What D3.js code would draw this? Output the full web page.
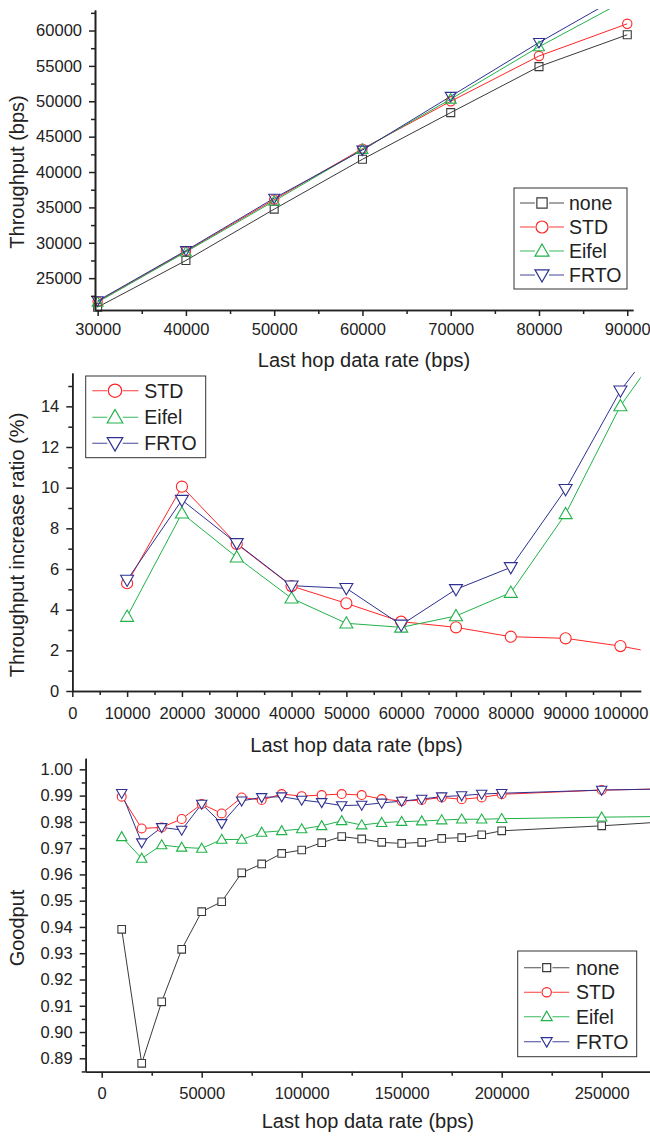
<!DOCTYPE html>
<html>
<head>
<meta charset="utf-8">
<script src="https://cdn.jsdelivr.net/npm/d3@7"></script>
<style>
    body{margin:0;background:#fff;}
    svg{display:block;font-family:"Liberation Sans",Arial,sans-serif;}
    .domain{stroke:#222;stroke-width:1.6;}
    .tick line{stroke:#222;stroke-width:1.5;}
    .tick text{font-size:16.5px;fill:#222;}
    .minor .tick text{display:none;}
    .axisTitle{font-size:20px;fill:#222;}
    .legendText{font-size:19.5px;fill:#222;}
</style>
</head>
<body>
<script>
//series styling lookups
var seriesNames = ["none", "STD", "Eifel", "FRTO"];
var seriesColors = {none: "#3a3a3a", STD: "#ff2626", Eifel: "#22b24a", FRTO: "#2e3192"};
var seriesSymbols = {none: "square", STD: "circle", Eifel: "up", FRTO: "down"};

//chart 1 - throughput
var thrRate = [30000, 40000, 50000, 60000, 70000, 80000, 90000];
var thrNone = [20900, 27500, 34750, 41800, 48400, 54900, 59400];
var thrSTD = [21700, 28800, 36100, 43300, 50000, 56400, 60950];
var thrEifel = [21600, 28700, 35900, 43200, 50300, 57700, 64400];
var thrFRTO = [21800, 28900, 36300, 43100, 50700, 58300, 65400];
var thrXTicks = [30000, 40000, 50000, 60000, 70000, 80000, 90000];
var thrYTicks = [25000, 30000, 35000, 40000, 45000, 50000, 55000, 60000];

//chart 2 - throughput increase ratio
var incRate = [10000, 20000, 30000, 40000, 50000, 60000, 70000, 80000, 90000, 100000, 110000];
var incSTD = [5.30, 10.05, 7.23, 5.16, 4.31, 3.41, 3.13, 2.67, 2.59, 2.21, 1.70];
var incEifel = [3.66, 8.74, 6.58, 4.56, 3.33, 3.13, 3.69, 4.84, 8.71, 14.02, 17.8];
var incFRTO = [5.46, 9.39, 7.26, 5.18, 5.05, 3.25, 5.00, 6.08, 9.92, 14.77, 18.3];
var incXTicks = [0, 10000, 20000, 30000, 40000, 50000, 60000, 70000, 80000, 90000, 100000];
var incYTicks = [0, 2, 4, 6, 8, 10, 12, 14];

//chart 3 - goodput
var gpRate = [10000, 20000, 30000, 40000, 50000, 60000, 70000, 80000, 90000, 100000,
    110000, 120000, 130000, 140000, 150000, 160000, 170000, 180000, 190000, 200000, 250000, 300000];
var gpNone = [0.9391, 0.8881, 0.9115, 0.9315, 0.9458, 0.9496, 0.9606, 0.9640, 0.9680, 0.9693,
    0.9721, 0.9744, 0.9735, 0.9722, 0.9718, 0.9722, 0.9737, 0.9740, 0.9751, 0.9766, 0.9785, 0.9809];
var gpSTD = [0.9896, 0.9775, 0.9779, 0.9811, 0.9868, 0.9832, 0.9893, 0.9883, 0.9906, 0.9898,
    0.9902, 0.9906, 0.9902, 0.9887, 0.9879, 0.9883, 0.9893, 0.9886, 0.9893, 0.9905, 0.9921, 0.9928];
var gpEifel = [0.9743, 0.9661, 0.9712, 0.9703, 0.9699, 0.9733, 0.9733, 0.9760, 0.9766, 0.9773,
    0.9785, 0.9804, 0.9788, 0.9797, 0.9801, 0.9803, 0.9807, 0.9810, 0.9810, 0.9812, 0.9818, 0.9822];
var gpFRTO = [0.9909, 0.9721, 0.9779, 0.9769, 0.9868, 0.9794, 0.9880, 0.9893, 0.9896, 0.9883,
    0.9874, 0.9862, 0.9864, 0.9872, 0.9879, 0.9887, 0.9896, 0.9900, 0.9906, 0.9909, 0.9921, 0.9928];
var gpXTicks = [0, 50000, 100000, 150000, 200000, 250000];
var gpYTicks = [0.89, 0.90, 0.91, 0.92, 0.93, 0.94, 0.95, 0.96, 0.97, 0.98, 0.99, 1.00];

var svg = d3.select("body")
    .append("svg")
    .attr("width", 650)
    .attr("height", 1136);

//marker path generator for each symbol type, k scales the size
function symbolPath(type, k){
    var a = 3.8 * k, t = 5.2 * k, b = 3.8 * k;
    if (type == "square") return "M" + (-a) + "," + (-a) + "H" + a + "V" + a + "H" + (-a) + "Z";
    if (type == "circle") return d3.symbol().type(d3.symbolCircle).size(62 * k * k)();
    if (type == "up") return "M0," + (-t) + "L" + t + "," + b + "L" + (-t) + "," + b + "Z";
    return "M0," + t + "L" + t + "," + (-b) + "L" + (-t) + "," + (-b) + "Z";
}

function drawChart(cfg){
    var x = d3.scaleLinear().domain(cfg.xDomain).range([cfg.left, cfg.right]);
    var y = d3.scaleLinear().domain(cfg.yDomain).range([cfg.bottom, cfg.top]);
    var g = svg.append("g");

    //clip lines to plot area
    g.append("clipPath")
        .attr("id", cfg.id + "clip")
        .append("rect")
        .attr("x", cfg.left)
        .attr("y", cfg.top - 1)
        .attr("width", cfg.right - cfg.left)
        .attr("height", cfg.bottom - cfg.top + 1);

    var line = d3.line()
        .x(function(d){ return x(d[0]); })
        .y(function(d){ return y(d[1]); });

    var lines = g.append("g").attr("clip-path", "url(#" + cfg.id + "clip)");
    cfg.series.forEach(function(s){
        var pts = cfg.xs.map(function(v, i){ return [v, s.values[i]]; });
        lines.append("path")
            .datum(pts)
            .attr("d", line)
            .attr("fill", "none")
            .attr("stroke", seriesColors[s.name])
            .attr("stroke-width", 1);
    });

    //markers, only those inside the plot range
    cfg.series.forEach(function(s){
        var pts = cfg.xs.map(function(v, i){ return [v, s.values[i]]; })
            .filter(function(d){ return d[0] <= cfg.xDomain[1] && d[1] <= cfg.yDomain[1]; });
        g.selectAll(".m" + s.name)
            .data(pts)
            .enter()
            .append("path")
            .attr("d", symbolPath(seriesSymbols[s.name], cfg.markerScale))
            .attr("transform", function(d){ return "translate(" + x(d[0]) + "," + y(d[1]) + ")"; })
            .attr("fill", cfg.markerFill)
            .attr("stroke", seriesColors[s.name])
            .attr("stroke-width", 1.1);
    });

    //major and minor ticks
    g.append("g")
        .attr("class", "minor")
        .attr("transform", "translate(0," + cfg.bottom + ")")
        .call(d3.axisBottom(x).tickValues(cfg.xMinor).tickSize(4).tickSizeOuter(0));
    g.append("g")
        .attr("class", "minor")
        .attr("transform", "translate(" + cfg.left + ",0)")
        .call(d3.axisLeft(y).tickValues(cfg.yMinor).tickSize(4).tickSizeOuter(0));
    g.append("g")
        .attr("transform", "translate(0," + cfg.bottom + ")")
        .call(d3.axisBottom(x).tickValues(cfg.xTicks).tickSize(6).tickPadding(cfg.xPad).tickSizeOuter(0)
            .tickFormat(d3.format("d")));
    g.append("g")
        .attr("transform", "translate(" + cfg.left + ",0)")
        .call(d3.axisLeft(y).tickValues(cfg.yTicks).tickSize(6).tickPadding(7).tickSizeOuter(0)
            .tickFormat(cfg.yFormat));

    //axis titles
    g.append("text")
        .attr("class", "axisTitle")
        .attr("text-anchor", "middle")
        .attr("x", (cfg.left + cfg.right) / 2)
        .attr("y", cfg.xTitleY)
        .text("Last hop data rate (bps)");
    g.append("text")
        .attr("class", "axisTitle")
        .attr("text-anchor", "middle")
        .attr("transform", "translate(24," + cfg.yTitleY + ") rotate(-90)")
        .text(cfg.yTitle);

    //legend box
    var lg = cfg.legend;
    var gap = 4.5 * lg.k + 1;
    g.append("rect")
        .attr("x", lg.x0)
        .attr("y", lg.y0)
        .attr("width", lg.x1 - lg.x0)
        .attr("height", lg.y1 - lg.y0)
        .attr("fill", "#fff")
        .attr("stroke", "#333")
        .attr("stroke-width", 1);
    cfg.series.forEach(function(s, i){
        var ly = lg.rows[i];
        [[lg.lx0, lg.mx - gap], [lg.mx + gap, lg.lx1]].forEach(function(seg){
            g.append("line")
                .attr("x1", seg[0]).attr("x2", seg[1])
                .attr("y1", ly).attr("y2", ly)
                .attr("stroke", seriesColors[s.name])
                .attr("stroke-width", 1.2)
                .attr("opacity", 0.75);
        });
        g.append("path")
            .attr("d", symbolPath(seriesSymbols[s.name], lg.k))
            .attr("transform", "translate(" + lg.mx + "," + ly + ")")
            .attr("fill", "#fff")
            .attr("stroke", seriesColors[s.name])
            .attr("stroke-width", 1.2);
        g.append("text")
            .attr("class", "legendText")
            .attr("x", lg.tx)
            .attr("y", ly)
            .attr("dy", "0.36em")
            .text(s.name);
    });
}

drawChart({
    id: "thr",
    left: 95, right: 633, top: 10, bottom: 310,
    xDomain: [29700, 90650], yDomain: [20500, 62900],
    xs: thrRate,
    series: [{name: "none", values: thrNone}, {name: "STD", values: thrSTD},
        {name: "Eifel", values: thrEifel}, {name: "FRTO", values: thrFRTO}],
    xTicks: thrXTicks, yTicks: thrYTicks,
    xMinor: d3.range(35000, 90000, 10000), yMinor: d3.range(22500, 63000, 5000),
    yFormat: d3.format("d"), xPad: 7,
    markerFill: "none", markerScale: 1.05,
    xTitleY: 367, yTitle: "Throughput (bps)", yTitleY: 172,
    legend: {x0: 514, y0: 188, x1: 627, y1: 289, rows: [203, 227, 251, 275],
        lx0: 520, lx1: 564, mx: 542, tx: 569, k: 1.35}
});

drawChart({
    id: "inc",
    left: 72.3, right: 640.7, top: 373, bottom: 691,
    xDomain: [0, 103700], yDomain: [0, 15.64],
    xs: incRate,
    series: [{name: "STD", values: incSTD}, {name: "Eifel", values: incEifel},
        {name: "FRTO", values: incFRTO}],
    xTicks: incXTicks, yTicks: incYTicks,
    xMinor: d3.range(5000, 103000, 10000), yMinor: d3.range(1, 16, 2),
    yFormat: d3.format("d"), xPad: 10,
    markerFill: "#fff", markerScale: 1.25,
    xTitleY: 752, yTitle: "Throughput increase ratio (%)", yTitleY: 545,
    legend: {x0: 85.7, y0: 376, x1: 205.7, y1: 457.7, rows: [390.7, 417.3, 443.3],
        lx0: 92.3, lx1: 138.3, mx: 115, tx: 144.3, k: 1.5}
});

drawChart({
    id: "gp",
    left: 85.7, right: 650, top: 758.3, bottom: 1071.7,
    xDomain: [-8000, 274150], yDomain: [0.8849, 1.0042],
    xs: gpRate,
    series: [{name: "none", values: gpNone}, {name: "STD", values: gpSTD},
        {name: "Eifel", values: gpEifel}, {name: "FRTO", values: gpFRTO}],
    xTicks: gpXTicks, yTicks: gpYTicks,
    xMinor: d3.range(25000, 274000, 50000), yMinor: d3.range(0.885, 1.004, 0.01),
    yFormat: d3.format(".2f"), xPad: 10,
    markerFill: "#fff", markerScale: 1.0,
    xTitleY: 1128, yTitle: "Goodput", yTitleY: 928,
    legend: {x0: 517.7, y0: 951, x1: 636.7, y1: 1056.7, rows: [967.7, 992.3, 1016.7, 1041.7],
        lx0: 524, lx1: 569.3, mx: 546.7, tx: 576, k: 1.05}
});
</script>
</body>
</html>
